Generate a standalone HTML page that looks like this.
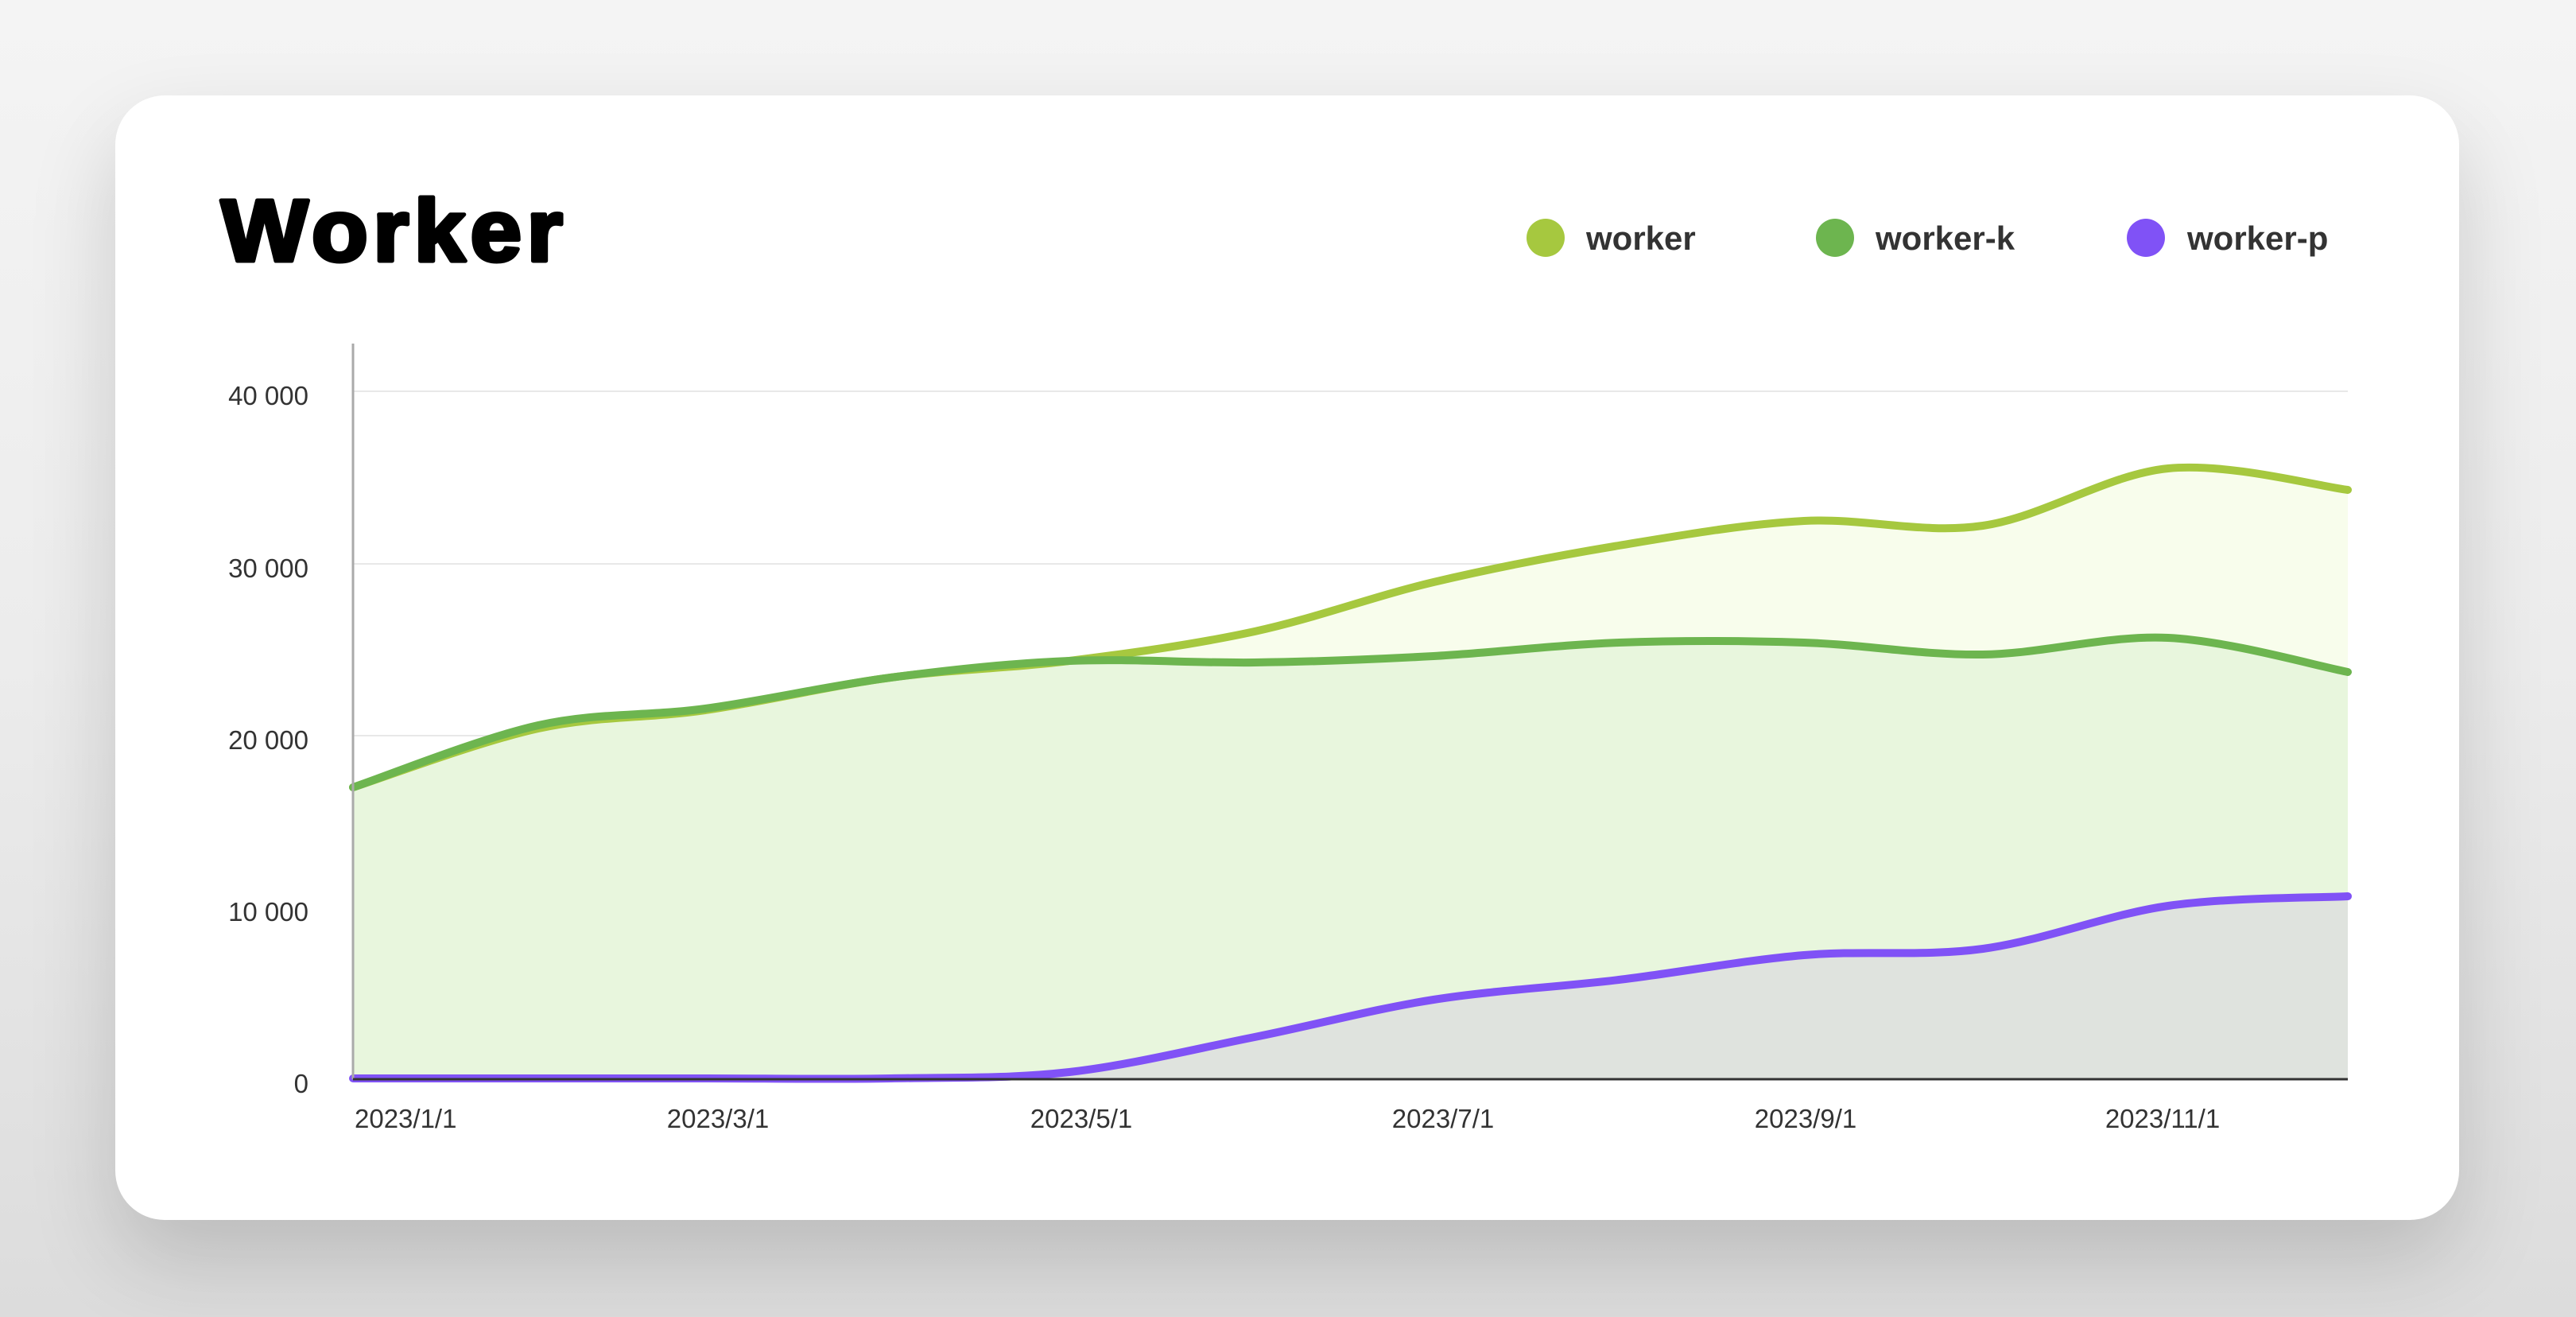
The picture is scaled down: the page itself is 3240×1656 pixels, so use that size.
<!DOCTYPE html>
<html><head><meta charset="utf-8"><style>
html,body{margin:0;padding:0}
body{width:3240px;height:1656px;position:relative;overflow:hidden;background:linear-gradient(180deg,#f4f4f4 0%,#ececec 50%,#dcdcdc 100%);font-family:"Liberation Sans",sans-serif}
.card{position:absolute;left:145px;top:120px;width:2948px;height:1414px;background:#fff;border-radius:62px;box-shadow:0 50px 110px rgba(0,0,0,0.16)}
svg{position:absolute;left:0;top:0}
</style></head><body>
<div class="card"></div>
<svg width="3240" height="1656" viewBox="0 0 3240 1656" xmlns="http://www.w3.org/2000/svg">
<text x="278" y="328" font-family="Liberation Sans, sans-serif" font-weight="700" font-size="110" fill="#000" stroke="#000" stroke-width="5" stroke-linejoin="round" letter-spacing="6" textLength="436" lengthAdjust="spacingAndGlyphs">Worker</text>
<g font-family="Liberation Sans, sans-serif" font-weight="700" font-size="42" fill="#333">
<circle cx="1944" cy="299" r="24" fill="#a6c83f"/><text x="1995" y="314">worker</text>
<circle cx="2308" cy="299" r="24" fill="#6db54f"/><text x="2359" y="314">worker-k</text>
<circle cx="2699" cy="299" r="24" fill="#8052f6"/><text x="2751" y="314">worker-p</text>
</g>
<g stroke="#e8e8e8" stroke-width="2">
<line x1="444" y1="492" x2="2953" y2="492"/><line x1="444" y1="709" x2="2953" y2="709"/>
<line x1="444" y1="925" x2="2953" y2="925"/><line x1="444" y1="1141" x2="2953" y2="1141"/>
</g>
<g id="series"></g>
<line x1="444" y1="432" x2="444" y2="1357" stroke="#aaa" stroke-width="3"/>
<line x1="444" y1="1357" x2="2953" y2="1357" stroke="#333" stroke-width="3"/>
<g font-family="Liberation Sans, sans-serif" font-size="33" fill="#333" text-anchor="end">
<text x="388" y="509">40 000</text><text x="388" y="726">30 000</text>
<text x="388" y="942">20 000</text><text x="388" y="1158">10 000</text>
<text x="388" y="1374">0</text>
</g>
<g font-family="Liberation Sans, sans-serif" font-size="33" fill="#333" text-anchor="middle">
<text x="446" y="1418" text-anchor="start">2023/1/1</text>
<text x="903" y="1418">2023/3/1</text>
<text x="1360" y="1418">2023/5/1</text>
<text x="1815" y="1418">2023/7/1</text>
<text x="2271" y="1418">2023/9/1</text>
<text x="2720" y="1418">2023/11/1</text>
</g>
</svg>
<script>
var xs=[444,677,887,1120,1345,1578,1803,2036,2269,2494,2727,2953];
var S=[
 {y:[990,916,893,852,831,794,732,686,655,661,589,616],c:"#a6c83f",f:"#f8fdec"},
 {y:[990,912,891,852,831,833,825,808,808,823,802,845],c:"#6db54f",f:"#e8f6dd"},
 {y:[1356,1356,1356,1356,1348,1304,1257,1232,1201,1193,1139,1127],c:"#8052f6",f:"#dfe3de"}
];
function path(ys){
 var d="M"+xs[0]+","+ys[0];
 for(var i=0;i<xs.length-1;i++){
  var p0=[xs[Math.max(i-1,0)],ys[Math.max(i-1,0)]],p1=[xs[i],ys[i]],p2=[xs[i+1],ys[i+1]],p3=[xs[Math.min(i+2,xs.length-1)],ys[Math.min(i+2,xs.length-1)]];
  var t=0.5/3;
  var c1=[p1[0]+(p2[0]-p0[0])*t,p1[1]+(p2[1]-p0[1])*t];
  var c2=[p2[0]-(p3[0]-p1[0])*t,p2[1]-(p3[1]-p1[1])*t];
  d+=" C"+c1[0]+","+c1[1]+" "+c2[0]+","+c2[1]+" "+p2[0]+","+p2[1];
 }
 return d;
}
var g=document.getElementById("series"),h="";
S.forEach(function(s){var d=path(s.y);h+='<path d="'+d+' L2953,1357 L444,1357 Z" fill="'+s.f+'"/>';});
S.forEach(function(s){h+='<path d="'+path(s.y)+'" fill="none" stroke="'+s.c+'" stroke-width="10" stroke-linecap="round"/>';});
g.innerHTML=h;
</script>
</body></html>
